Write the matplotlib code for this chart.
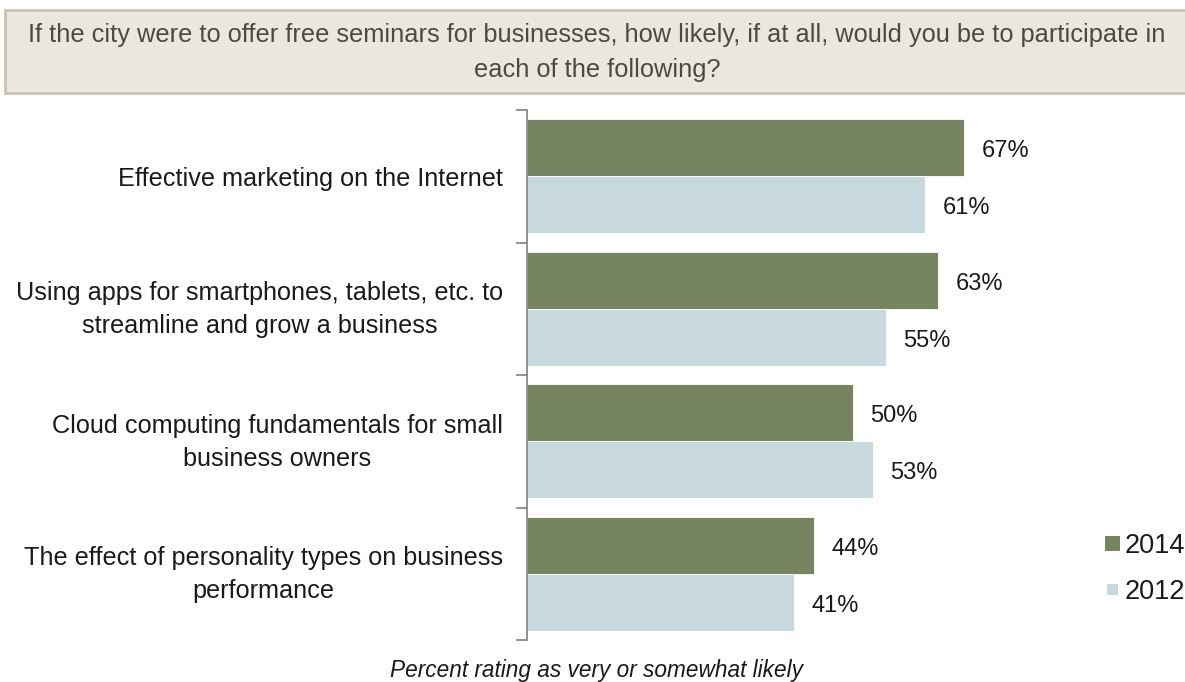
import matplotlib.pyplot as plt
from matplotlib.patches import Rectangle

categories = [
    "Effective marketing on the Internet",
    "Using apps for smartphones, tablets, etc. to\nstreamline and grow a business",
    "Cloud computing fundamentals for small\nbusiness owners",
    "The effect of personality types on business\nperformance",
]
values_2014 = [67, 63, 50, 44]
values_2012 = [61, 55, 53, 41]
series_names = ["2014", "2012"]

GREEN = "#76845F"
BLUE = "#C7D9DF"
TEXT = "#1a1a1a"

plt.rcParams["font.family"] = ["Liberation Sans", "DejaVu Sans"]

W, H = 1185, 682
fig = plt.figure(figsize=(W / 100, H / 100), dpi=100)

# overlay axes in pixel coordinates for the box, labels and legend
px = fig.add_axes([0, 0, 1, 1], zorder=2)
px.set_xlim(0, W)
px.set_ylim(H, 0)
px.axis("off")
px.patch.set_visible(False)

px.add_patch(Rectangle((5, 10), W + 10, 83, facecolor="#EAE7E0",
                       edgecolor="#C9C2AF", linewidth=2))
px.text(597, 35, "If the city were to offer free seminars for businesses, how likely, if at all, "
        "would you be to participate in", ha="center", va="center",
        fontsize=18.3, color="#4A4A40")
px.text(597, 70, "each of the following?", ha="center", va="center",
        fontsize=18.3, color="#4A4A40")
px.text(597, 670, "Percent rating as very or somewhat likely", ha="center",
        va="center", fontsize=16.3, style="italic", color=TEXT)

# bar area: spine at x=527, tick marks from y=110 to y=640
left, right, top, bottom = 527, 1185, 110, 640
ax = fig.add_axes([left / W, 1 - bottom / H, (right - left) / W, (bottom - top) / H])
n = len(categories)
ax.set_ylim(n, 0)
ax.set_xlim(0, (right - left) / 6.52)

h = 0.43
nudge = 0.025
ypos = [i + 0.5 for i in range(n)]
ax.barh([y - h / 2 for y in ypos], values_2014, height=h, color=GREEN,
        edgecolor="white", linewidth=0.6, label=series_names[0])
ax.barh([y + h / 2 for y in ypos], values_2012, height=h, color=BLUE,
        edgecolor="white", linewidth=0.6, label=series_names[1])

for y, v in zip(ypos, values_2014):
    ax.text(v + 2.7, y - h / 2 + nudge, f"{v}%", va="center", ha="left", fontsize=17, color=TEXT)
for y, v in zip(ypos, values_2012):
    ax.text(v + 2.7, y + h / 2 + nudge, f"{v}%", va="center", ha="left", fontsize=17, color=TEXT)

# category labels, right edge just left of the spine
for y, label in zip(ypos, categories):
    ypix = top + (bottom - top) * y / n + (3 if "\n" not in label else 1)
    px.text(503, ypix, label, ha="right", va="center", fontsize=18.2,
            color=TEXT, multialignment="center", linespacing=1.45)

ax.set_yticks(range(n + 1))
ax.set_yticklabels([])
ax.tick_params(axis="y", length=8, width=1.2, color="#7F7F7F")
ax.set_xticks([])
for s in ["top", "right", "bottom"]:
    ax.spines[s].set_visible(False)
ax.spines["left"].set_color("#7F7F7F")
ax.spines["left"].set_linewidth(1.2)

# legend on the right edge
px.add_patch(Rectangle((1105, 536), 15, 15, facecolor=GREEN))
px.add_patch(Rectangle((1107, 584), 11, 11, facecolor=BLUE))
px.text(1125, 546, series_names[0], va="center", ha="left", fontsize=19.5, color=TEXT)
px.text(1125, 592, series_names[1], va="center", ha="left", fontsize=19.5, color=TEXT)

fig.savefig("out.png", dpi=100)
